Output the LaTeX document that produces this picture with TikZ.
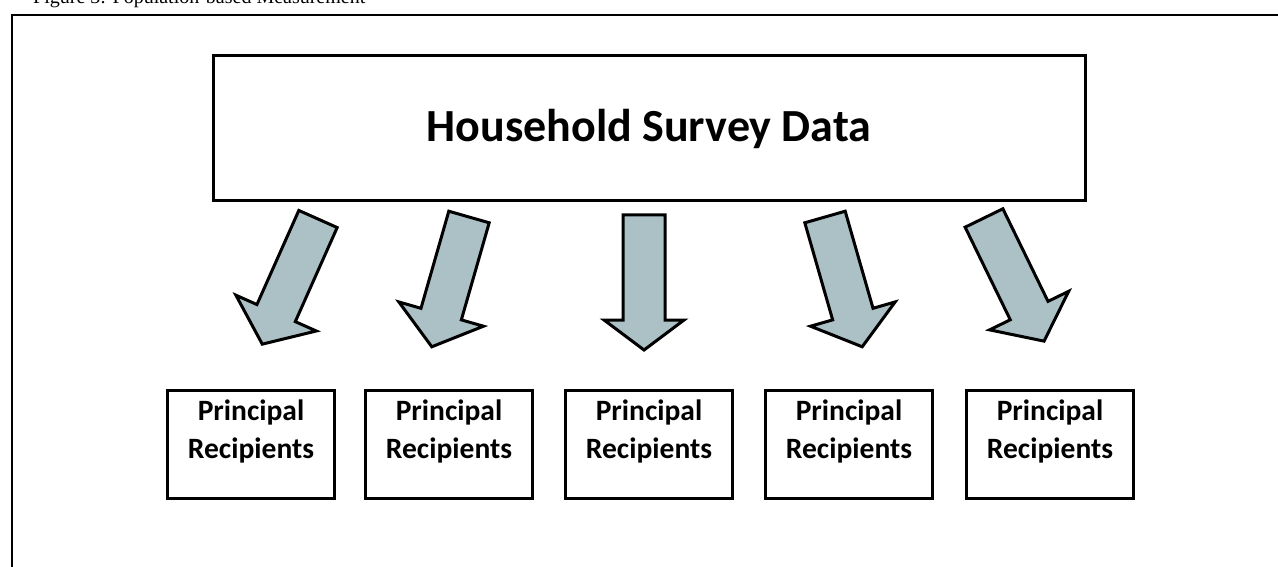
\documentclass[tikz,border=0pt]{standalone}
\usepackage{fontspec}
\setmainfont{Carlito}
\newfontfamily\capfont{Liberation Serif}
\definecolor{arrowfill}{RGB}{172,193,198}
% block arrow: tail centre x, tail centre y, rotation, length, shaft half width, head half width, head length
\newcommand\flowarrow[7]{%
  \begin{scope}[shift={(#1,#2)}, rotate=#3]
    \draw[flowarrowstyle] (-#5,0) -- (#5,0) -- (#5,{#4-#7}) -- (#6,{#4-#7})
      -- (0,#4) -- (-#6,{#4-#7}) -- (-#5,{#4-#7}) -- cycle;
  \end{scope}}
\begin{document}
\begin{tikzpicture}[x=1pt,y=-1pt,
  framestyle/.style={line width=2.5pt},
  sourcebox/.style={draw, line width=3pt, minimum width=872pt, minimum height=145pt,
    font=\fontsize{46}{55}\selectfont\bfseries},
  recipbox/.style={draw, line width=3pt, minimum width=167pt, minimum height=108pt},
  reciplabel/.style={font=\fontsize{29.5}{38}\selectfont\bfseries, align=center, inner sep=0pt},
  flowarrowstyle/.style={draw, line width=3pt, fill=arrowfill, line join=miter}]
  \useasboundingbox (0,0) rectangle (1278,567);
  \clip (0,0) rectangle (1278,567);

  % caption running off the top edge
  \node[anchor=base west, inner sep=0pt, font=\capfont\fontsize{20}{24}\selectfont] (caption) at (33,4)
    {Figure 3: Population-based Measurement};

  % surrounding frame
  \draw[framestyle] (12,580) -- (12,15) -- (1290,15);

  % source of the data
  \node[sourcebox] (survey) at (649,128.5) {Household Survey Data};

  % recipients
  \foreach \i/\cx in {1/251, 2/449, 3/649, 4/849, 5/1050} {
    \node[recipbox] (pr\i) at (\cx,444) {};
    \node[reciplabel] (pr\i label) at (\cx,431) {Principal\\Recipients};
  }

  % arrows from the survey to each recipient
  \flowarrow{318}{219}{-24}{137}{21}{44}{34}
  \flowarrow{469}{217}{-16}{135}{21}{44}{34}
  \flowarrow{644}{215}{0}{135}{21}{40}{30}
  \flowarrow{825}{217}{16}{135}{21}{44}{34}
  \flowarrow{984}{218}{26}{137}{21}{44}{34}
\end{tikzpicture}
\end{document}
